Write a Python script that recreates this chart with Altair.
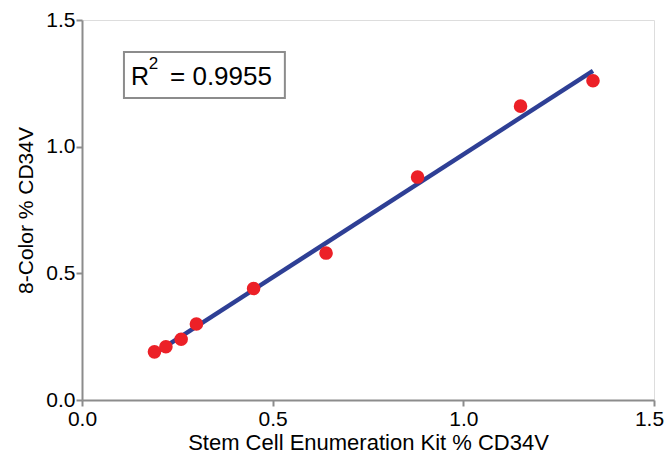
import altair as alt
import pandas as pd

kit = [0.19, 0.22, 0.26, 0.30, 0.45, 0.64, 0.88, 1.15, 1.34]
eight_color = [0.19, 0.21, 0.24, 0.30, 0.44, 0.58, 0.88, 1.16, 1.26]
r2_value = "= 0.9955"

df = pd.DataFrame({"kit": kit, "eight": eight_color})

FONT = "Liberation Sans"
GRAY = "#8c8c8c"

xs = alt.Scale(domain=[0, 1.5], nice=False)
ys = alt.Scale(domain=[0, 1.5], nice=False)

common = dict(values=[0, 0.5, 1.0, 1.5], format=".1f", grid=False,
              domainColor=GRAY, domainWidth=2, tickColor=GRAY, tickWidth=2,
              tickSize=6, labelFontSize=21,
              labelFont=FONT, titleFont=FONT, labelColor="black", titleColor="black",
              titleFontWeight="normal", labelFlush=False)
xaxis = alt.Axis(title="Stem Cell Enumeration Kit % CD34V", titleFontSize=22,
                 labelPadding=2, titlePadding=3,
                 labelOffset=alt.condition("datum.value == 1.5", alt.value(-5), alt.value(0)),
                 **common)
yaxis = alt.Axis(title="8-Color % CD34V", titleFontSize=21,
                 labelPadding=1, titlePadding=9, **common)

base = alt.Chart(df)

points = base.mark_circle(size=185, color="#ec2027", opacity=1).encode(
    x=alt.X("kit:Q", scale=xs, axis=xaxis),
    y=alt.Y("eight:Q", scale=ys, axis=yaxis),
)

line = base.transform_regression("kit", "eight").mark_line(
    color="#2e3f95", strokeWidth=4.5
).encode(
    x=alt.X("kit:Q", scale=xs),
    y=alt.Y("eight:Q", scale=ys),
)

box_df = pd.DataFrame({"x1": [0.110], "x2": [0.532], "y1": [1.192], "y2": [1.374]})
box = alt.Chart(box_df).mark_rect(fill="white", stroke=GRAY, strokeWidth=2).encode(
    x=alt.X("x1:Q", scale=xs), x2="x2:Q",
    y=alt.Y("y1:Q", scale=ys), y2="y2:Q",
)

r_df = pd.DataFrame({"x": [0.1285], "y": [1.2436], "t": ["R"]})
sup_df = pd.DataFrame({"x": [0.175], "y": [1.307], "t": ["2"]})
val_df = pd.DataFrame({"x": [0.2308], "y": [1.2436], "t": [r2_value]})

def txt(d, size):
    return alt.Chart(d).mark_text(font=FONT, fontSize=size, color="black",
                                  align="left", baseline="alphabetic").encode(
        x=alt.X("x:Q", scale=xs), y=alt.Y("y:Q", scale=ys), text="t:N")

chart = alt.layer(box, txt(r_df, 25), txt(sup_df, 17), txt(val_df, 26), line, points).properties(
    width=572, height=380,
    autosize=alt.AutoSizeParams(type="none"),
    padding={"left": 74, "top": 12, "right": 10, "bottom": 53},
).configure_view(stroke=GRAY, strokeWidth=2).configure(background="white")

chart.save("out.html", embed_options={"renderer": "svg", "actions": False})
